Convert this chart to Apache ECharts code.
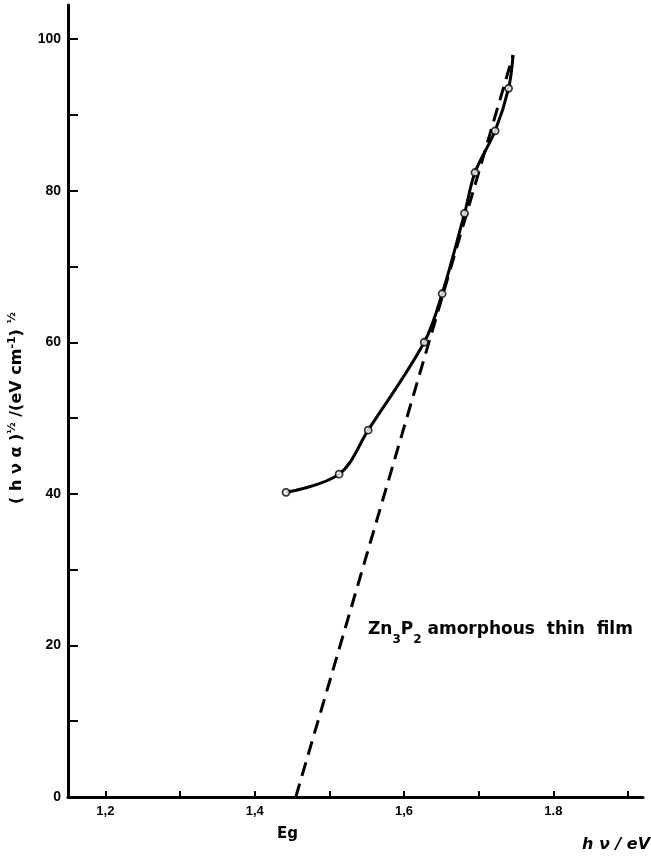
<!DOCTYPE html>
<html>
<head>
<meta charset="utf-8">
<script src="https://cdn.jsdelivr.net/npm/echarts@6/dist/echarts.min.js"></script>
<style>html,body{margin:0;padding:0;background:#fff}#c{width:651px;height:859px}</style>
</head>
<body>
<div id="c"></div>
<script>
// ---- data ----
const measuredX = [1.442, 1.513, 1.552, 1.627, 1.651, 1.681, 1.695, 1.722, 1.740];
const measuredY = [40.2, 42.6, 48.4, 60.0, 66.4, 77.0, 82.4, 87.9, 93.5];
const curveEndX = [1.746];
const curveEndY = [97.9];
const extrapX = [1.455, 1.746];
const extrapY = [0, 97.9];
const xTickValues = [1.2, 1.3, 1.4, 1.5, 1.6, 1.7, 1.8, 1.9];
const xLabelValues = [1.2, 1.4, 1.6, 1.8];
const xLabelTexts = ["1,2", "1,4", "1,6", "1.8"];
const yTickValues = [0, 10, 20, 30, 40, 50, 60, 70, 80, 90, 100];
const yLabelValues = [0, 20, 40, 60, 80, 100];
const yLabelTexts = ["0", "20", "40", "60", "80", "100"];

const pts = measuredX.map((x, i) => [x, measuredY[i]]);
const curve = pts.concat(curveEndX.map((x, i) => [x, curveEndY[i]]));
const dashed = extrapX.map((x, i) => [x, extrapY[i]]);

const FONT = '"Liberation Sans", Arial, sans-serif';
const DJ = '"DejaVu Sans", sans-serif';
const chart = echarts.init(document.getElementById('c'), null, {renderer: 'canvas'});
chart.setOption({
  animation: false,
  backgroundColor: '#fff',
  grid: {left: 68, right: 8, top: 5, bottom: 62, containLabel: false},
  xAxis: {
    type: 'value', min: 1.15, max: 1.92,
    splitLine: {show: false},
    axisLine: {onZero: false, lineStyle: {color: '#000', width: 3}},
    axisTick: {show: true, inside: true, length: 6, customValues: xTickValues, lineStyle: {color: '#000', width: 2}},
    axisLabel: {
      customValues: xLabelValues, margin: 8, color: '#000', fontFamily: FONT, fontWeight: 'bold', fontSize: 13,
      formatter: v => { const i = xLabelValues.findIndex(t => Math.abs(t - v) < 1e-6); return i >= 0 ? xLabelTexts[i] : ''; }
    }
  },
  yAxis: {
    type: 'value', min: 0, max: 104.5,
    splitLine: {show: false},
    axisLine: {onZero: false, lineStyle: {color: '#000', width: 3}},
    axisTick: {show: true, inside: true, length: 10, customValues: yTickValues, lineStyle: {color: '#000', width: 2}},
    axisLabel: {
      customValues: yLabelValues, margin: 7, color: '#000', fontFamily: FONT, fontWeight: 'bold', fontSize: 14,
      formatter: v => { const i = yLabelValues.findIndex(t => Math.abs(t - v) < 1e-6); return i >= 0 ? yLabelTexts[i] : ''; }
    }
  },
  series: [
    {
      type: 'line', data: dashed, showSymbol: false, symbol: 'none', z: 2,
      lineStyle: {color: '#000', width: 3, type: [14, 8]}
    },
    {
      type: 'line', data: curve, showSymbol: false, symbol: 'none', smooth: 0.35, z: 3,
      lineStyle: {color: '#000', width: 3}
    },
    {
      type: 'scatter', data: pts, symbol: 'circle', symbolSize: 7, z: 4,
      itemStyle: {color: '#fff', borderColor: '#000', borderWidth: 1.8}
    }
  ],
  graphic: [
    {
      type: 'text', left: 368, top: 621,
      style: {
        text: '{m|Zn}{s|3}{m|P}{s|2}{m| amorphous  thin  film}',
        rich: {
          m: {fontFamily: DJ, fontWeight: 'bold', fontSize: 17, lineHeight: 24, fill: '#000'},
          s: {fontFamily: DJ, fontWeight: 'bold', fontSize: 12, lineHeight: 24, verticalAlign: 'bottom', padding: [0, 0, -4, 0], fill: '#000'}
        }
      }
    },
    {
      type: 'text', left: 277, top: 827,
      style: {text: 'Eg', fontFamily: DJ, fontWeight: 'bold', fontSize: 15, fill: '#000'}
    },
    {
      type: 'text', left: 582, top: 837,
      style: {text: 'h ν / eV', fontFamily: DJ, fontWeight: 'bold', fontStyle: 'italic', fontSize: 16, fill: '#000'}
    },
    {
      type: 'text', x: 17, y: 408, rotation: Math.PI / 2,
      style: {
        text: '{n|( h ν α )}{s|½}{n| /(eV cm}{s|-1}{n|) }{s|½}',
        align: 'center', verticalAlign: 'middle',
        rich: {
          n: {fontFamily: DJ, fontWeight: 'bold', fontSize: 16, lineHeight: 20, fill: '#000'},
          s: {fontFamily: DJ, fontWeight: 'bold', fontSize: 11, lineHeight: 20, verticalAlign: 'top', padding: [0, 0, 4, 0], fill: '#000'}
        }
      }
    }
  ]
});
</script>
</body>
</html>
